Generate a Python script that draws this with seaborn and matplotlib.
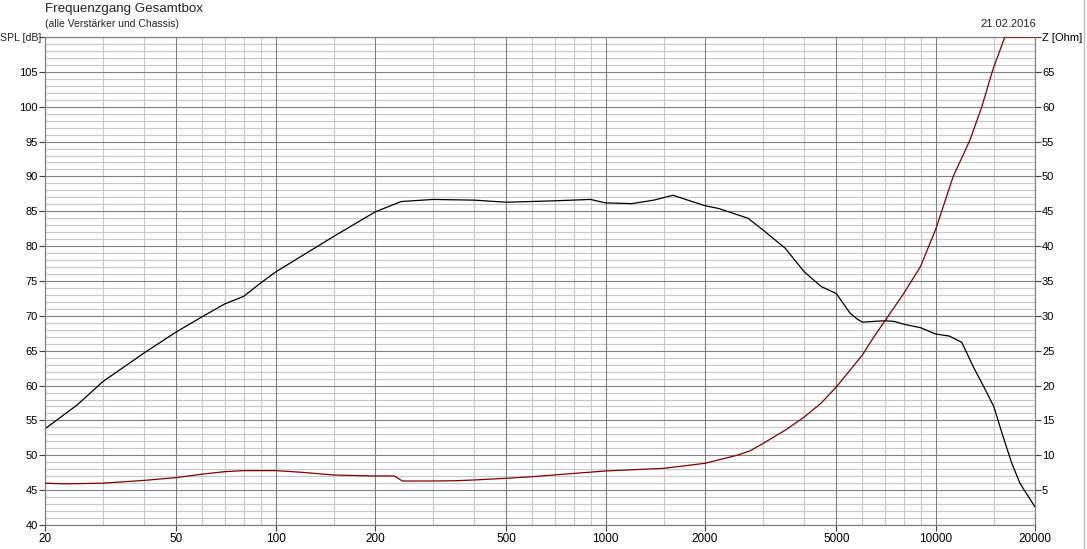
import matplotlib
matplotlib.use("Agg")
import matplotlib.pyplot as plt
import matplotlib.ticker as mticker
from matplotlib.lines import Line2D
import seaborn as sns

# SPL curve (black), frequency in Hz, level in dB
freq_spl = [20, 25, 30, 40, 50, 60, 70, 80, 90, 100, 150, 200, 240, 300, 400, 500,
            700, 900, 1000, 1200, 1400, 1600, 1800, 2000, 2200, 2700, 3000, 3500,
            4000, 4500, 5000, 5500, 5800, 6000, 7000, 7500, 8000, 9000, 10000,
            11000, 12000, 13000, 14000, 15000, 16000, 17000, 18000, 20000]
spl = [53.8, 57.2, 60.6, 64.7, 67.7, 69.9, 71.7, 72.8, 74.7, 76.3, 81.4, 84.9, 86.4,
       86.7, 86.6, 86.3, 86.5, 86.7, 86.2, 86.1, 86.6, 87.3, 86.5, 85.8, 85.4, 84.0,
       82.3, 79.7, 76.3, 74.2, 73.2, 70.4, 69.5, 69.1, 69.3, 69.2, 68.8, 68.3, 67.4,
       67.1, 66.2, 62.7, 59.8, 57.0, 52.7, 48.9, 46.0, 42.6]

# impedance curve (dark red), Ohm
freq_z = [20, 23, 30, 40, 50, 60, 70, 80, 100, 120, 150, 200, 229, 242, 300, 350,
          400, 500, 600, 800, 1000, 1500, 2000, 2500, 2730, 3000, 3500, 4000, 4500,
          5000, 5500, 6000, 6500, 7000, 8000, 9000, 10000, 11300, 12700, 13800,
          14900, 16200, 20000]
imp = [6.0, 5.9, 6.0, 6.4, 6.8, 7.3, 7.65, 7.8, 7.8, 7.56, 7.17, 7.03, 7.03, 6.31,
       6.31, 6.35, 6.46, 6.7, 6.93, 7.4, 7.75, 8.13, 8.85, 10.0, 10.6, 11.7, 13.6,
       15.5, 17.5, 19.8, 22.2, 24.4, 27.0, 29.2, 33.2, 37.1, 42.4, 50.0, 55.2, 60.0,
       65.3, 70.0, 70.0]

x_ticks = [20, 50, 100, 200, 500, 1000, 2000, 5000, 10000, 20000]
x_minor = [30, 40, 60, 70, 80, 90, 150, 300, 400, 600, 700, 800, 900, 1500,
           3000, 4000, 6000, 7000, 8000, 9000, 15000]
spl_ticks = list(range(40, 111, 5))
spl_labels = [str(v) for v in spl_ticks[:-1]] + [""]
z_ticks = list(range(5, 71, 5))
z_labels = [str(v) for v in z_ticks[:-1]] + ["Z [Ohm]"]

sns.set_style("white")
plt.rcParams['font.family'] = ['Liberation Sans', 'DejaVu Sans']

major_c = "#808080"
minor_c = "#c8c8c8"

fig = plt.figure(figsize=(10.87, 5.49), dpi=100)
ax = fig.add_axes([45 / 1087, 1 - 525 / 549, 990 / 1087, 488 / 549])

ax.set_xscale("log")
ax.set_xlim(20, 20000)
ax.set_ylim(40, 110)

# grid: minor first, major over it
for v in range(41, 110):
    if v % 5:
        ax.axhline(v, color=minor_c, lw=0.8, zorder=0)
for v in x_minor:
    ax.axvline(v, color=minor_c, lw=0.8, zorder=0)
for v in spl_ticks:
    ax.axhline(v, color=major_c, lw=0.8, zorder=1)
for v in x_ticks:
    ax.axvline(v, color=major_c, lw=0.8, zorder=1)

ax2 = ax.twinx()
ax2.set_ylim(0, 70)

sns.lineplot(x=freq_spl, y=spl, ax=ax, color="black", lw=0.9, zorder=3)
sns.lineplot(x=freq_z, y=imp, ax=ax2, color="#800000", lw=0.9, zorder=3)

ax.set_xticks(x_ticks)
ax.set_xticklabels([str(v) for v in x_ticks])
ax.xaxis.set_minor_locator(mticker.NullLocator())
ax2.xaxis.set_minor_locator(mticker.NullLocator())
ax.set_yticks(spl_ticks)
ax.set_yticklabels(spl_labels)
ax2.set_yticks(z_ticks)
ax2.set_yticklabels(z_labels)

for a in (ax, ax2):
    a.tick_params(axis="both", length=4, width=0.8, color="#404040",
                  labelsize=8, pad=1, labelcolor="black")
    for s in a.spines.values():
        s.set_color(major_c)
        s.set_linewidth(0.8)
ax.tick_params(axis="y", left=True, right=False)
ax.tick_params(axis="x", bottom=True, pad=2, labelsize=8.5)
ax2.tick_params(axis="y", right=True, left=False)
ax.set_xlabel("")
ax.set_ylabel("")
ax2.set_ylabel("")

# left axis unit, placed at the 110 dB position
fig.text(41 / 1087, 1 - 38 / 549, "SPL [dB]", ha="right", va="center", fontsize=7.6)

fig.text(45 / 1087, 1 - 3 / 549, "Frequenzgang Gesamtbox", ha="left", va="top",
         fontsize=9.6)
fig.text(45 / 1087, 1 - 19 / 549, "(alle Verstärker und Chassis)", ha="left",
         va="top", fontsize=7.5)
fig.text(1036 / 1087, 1 - 19 / 549, "21.02.2016", ha="right", va="top", fontsize=8)

# window border on the right
fig.add_artist(Line2D([1083.5 / 1087, 1083.5 / 1087], [0, 1], color="#c0c0c0",
                      lw=1, transform=fig.transFigure))

fig.savefig("out.png", dpi=100, facecolor="white")
